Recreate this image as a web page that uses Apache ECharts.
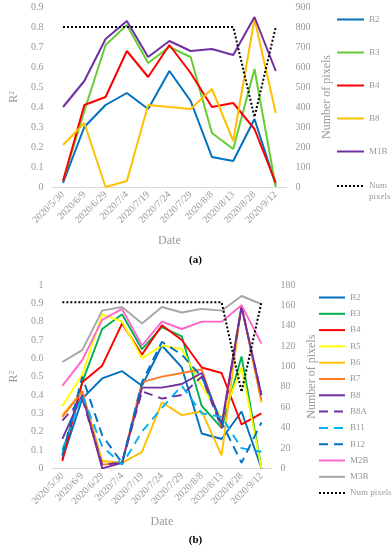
<!DOCTYPE html>
<html><head><meta charset="utf-8">
<script src="https://cdn.jsdelivr.net/npm/echarts@6/dist/echarts.min.js"></script>
<style>html,body{margin:0;padding:0;background:#fff}#c{width:391px;height:550px}</style>
</head><body><div id="c"></div>
<script>
const dates = ['2020/5/30','2020/6/9','2020/6/29','2020/7/4','2020/7/19','2020/7/24','2020/7/29','2020/8/8','2020/8/13','2020/8/28','2020/9/12'];

// Panel (a)
const aB2  = [0.02,0.30,0.41,0.47,0.39,0.58,0.43,0.15,0.13,0.34,0.01];
const aB3  = [0.03,0.38,0.71,0.81,0.62,0.70,0.65,0.27,0.19,0.59,0.00];
const aB4  = [0.03,0.41,0.45,0.68,0.55,0.71,0.57,0.40,0.42,0.29,0.02];
const aB8  = [0.21,0.32,0.00,0.03,0.41,0.40,0.39,0.49,0.23,0.84,0.37];
const aM1B = [0.40,0.53,0.74,0.83,0.65,0.73,0.68,0.69,0.66,0.85,0.58];
const aNum = [800,800,800,800,800,800,800,800,800,350,800];

// Panel (b)
const bB2  = [0.05,0.38,0.49,0.53,0.45,0.67,0.55,0.19,0.16,0.31,0.00];
const bB3  = [0.07,0.47,0.76,0.84,0.65,0.77,0.72,0.34,0.22,0.61,0.00];
const bB4  = [0.04,0.47,0.56,0.79,0.62,0.78,0.70,0.55,0.52,0.24,0.30];
const bB5  = [0.34,0.51,0.84,0.80,0.60,0.67,0.65,0.45,0.27,0.55,0.00];
const bB6  = [0.29,0.42,0.04,0.03,0.09,0.36,0.29,0.31,0.07,0.89,0.36];
const bB7  = [0.28,0.42,0.02,0.03,0.47,0.50,0.52,0.54,0.22,0.89,0.37];
const bB8  = [0.16,0.40,0.00,0.03,0.44,0.44,0.46,0.52,0.24,0.88,0.40];
const bB8A = [0.26,0.38,0.02,0.03,0.42,0.38,0.40,0.50,0.22,0.88,0.40];
const bB11 = [0.10,0.40,0.12,0.02,0.20,0.33,0.45,0.30,0.28,0.11,0.09];
const bB12 = [0.07,0.50,0.18,0.03,0.47,0.69,0.62,0.50,0.25,0.03,0.25];
const bM2B = [0.45,0.59,0.81,0.87,0.67,0.80,0.76,0.80,0.80,0.89,0.68];
const bM3B = [0.58,0.645,0.86,0.88,0.79,0.88,0.85,0.87,0.86,0.94,0.895];
const bNum = [163,163,163,163,163,163,163,163,163,75,163];

const FONT = 'Liberation Serif';
const GRAY = '#999';
const DASH = [9,6];
const DOT = [2,2];

function mk(name, data, color, xi, yi, dash, w) {
  return {
    name: name, type: 'line', data: data, xAxisIndex: xi, yAxisIndex: yi,
    symbol: 'circle', showSymbol: false, animation: false, silent: true,
    lineStyle: { color: color, width: w || 2, type: dash || 'solid' },
    itemStyle: { color: color }
  };
}

const series = [
  mk('B2', aB2, '#0070c0', 0, 0),
  mk('B3', aB3, '#66cc33', 0, 0),
  mk('B4', aB4, '#ff0000', 0, 0),
  mk('B8', aB8, '#ffc000', 0, 0),
  mk('M1B', aM1B, '#7030a0', 0, 0),
  mk('Num pixels', aNum, '#000000', 0, 1, DOT, 2),
  mk('B2 ', bB2, '#0070c0', 1, 2, null, 1.9),
  mk('B3 ', bB3, '#00b050', 1, 2, null, 1.9),
  mk('B4 ', bB4, '#ff0000', 1, 2, null, 1.9),
  mk('B5', bB5, '#ffff00', 1, 2, null, 1.9),
  mk('B6', bB6, '#ffc000', 1, 2, null, 1.9),
  mk('B7', bB7, '#ff7c20', 1, 2, null, 1.9),
  mk('B8 ', bB8, '#7030a0', 1, 2, null, 1.9),
  mk('B8A', bB8A, '#7030a0', 1, 2, DASH, 1.9),
  mk('B11', bB11, '#00b0f0', 1, 2, DASH, 1.9),
  mk('B12', bB12, '#0070c0', 1, 2, DASH, 1.9),
  mk('M2B', bM2B, '#ff66cc', 1, 2, null, 1.9),
  mk('M3B', bM3B, '#a6a6a6', 1, 2, null, 1.9),
  mk('Num pixels ', bNum, '#000000', 1, 3, DOT, 2)
];

function xAx(gi) {
  return {
    type: 'category', gridIndex: gi, data: dates, boundaryGap: true,
    axisLine: { lineStyle: { color: '#d9d9d9', width: 1 } },
    axisTick: { show: false },
    axisLabel: { rotate: 45, color: GRAY, fontFamily: FONT, fontSize: 10, margin: 6, interval: 0 },
    name: 'Date', nameLocation: 'middle', nameGap: 48,
    nameTextStyle: { color: GRAY, fontFamily: FONT, fontSize: 12 }
  };
}
function yAx(gi, min, max, interval, name, pos, gap) {
  return {
    type: 'value', gridIndex: gi, min: min, max: max, interval: interval, position: pos,
    axisLine: { show: false }, axisTick: { show: false }, splitLine: { show: false },
    axisLabel: { color: GRAY, fontFamily: FONT, fontSize: 10, margin: 9 },
    name: name, nameLocation: 'middle', nameGap: gap, nameRotate: 90,
    nameTextStyle: { color: GRAY, fontFamily: FONT, fontSize: 12 }
  };
}

const legText = { color: GRAY, fontFamily: FONT, fontSize: 9 };
const legItem = { opacity: 0 };

const option = {
  backgroundColor: '#fff',
  animation: false,
  grid: [
    { left: 36.7, top: 7, width: 249.7, height: 180 },
    { left: 36, top: 285, width: 235.4, height: 183.3 }
  ],
  xAxis: [xAx(0), xAx(1)],
  yAxis: [
    yAx(0, 0, 0.9, 0.1, 'R²', 'left', 28),
    yAx(0, 0, 900, 100, 'Number of pixels', 'right', 28),
    yAx(1, 0, 1, 0.1, 'R²', 'left', 28),
    yAx(1, 0, 180, 20, 'Number of pixels', 'right', 28)
  ],
  legend: [
    { orient: 'vertical', left: 331, top: 10, itemWidth: 27, itemHeight: 10, itemGap: 24,
      data: ['B2','B3','B4','B8','M1B'], textStyle: legText, itemStyle: legItem, selectedMode: false },
    { orient: 'vertical', left: 331, top: 164.5, itemWidth: 27, itemHeight: 10,
      data: ['Num pixels'], selectedMode: false, itemStyle: legItem,
      formatter: function () { return '\u00a0\nNum\npixels'; },
      textStyle: Object.assign({}, legText, { lineHeight: 11 }) },
    { orient: 'vertical', left: 313, top: 288, itemWidth: 26, itemHeight: 10, itemGap: 7.3,
      data: ['B2 ','B3 ','B4 ','B5','B6','B7','B8 ','B8A','B11','B12','M2B','M3B','Num pixels '],
      textStyle: legText, itemStyle: legItem, selectedMode: false }
  ],
  graphic: [
    { type: 'text', left: 'center', top: 255, style: { text: '(a)', fontFamily: FONT, fontSize: 11, fontWeight: 'bold', fill: '#000' } },
    { type: 'text', left: 'center', top: 535, style: { text: '(b)', fontFamily: FONT, fontSize: 11, fontWeight: 'bold', fill: '#000' } }
  ],
  series: series
};

const chart = echarts.init(document.getElementById('c'), null, { renderer: 'canvas' });
chart.setOption(option);
</script></body></html>
